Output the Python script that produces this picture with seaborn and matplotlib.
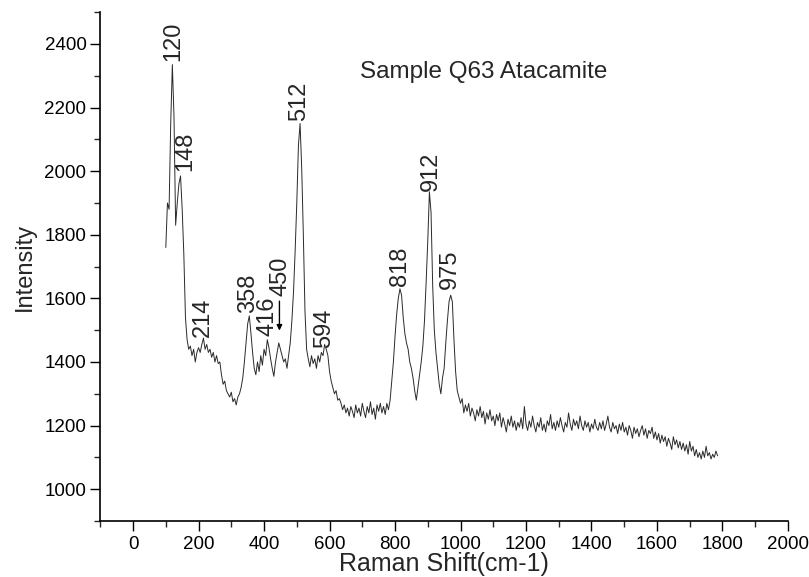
import numpy as np
import pandas as pd
import matplotlib
matplotlib.use("Agg")
import matplotlib.pyplot as plt
import seaborn as sns
from matplotlib.ticker import MultipleLocator

# Raman shift grid (cm-1), 5 cm-1 steps from 100 to 1785
shift = np.arange(100, 1790, 5)

intensity = [
    1760, 1900, 1880, 2150, 2335, 2170, 1830, 1900, 1960, 1985,
    1880, 1740, 1540, 1470, 1440, 1450, 1420, 1440, 1400, 1430,
    1445, 1430, 1455, 1475, 1440, 1455, 1430, 1440, 1415, 1430,
    1400, 1420, 1395, 1400, 1360, 1330, 1340, 1310, 1300, 1290,
    1305, 1275, 1285, 1265, 1290, 1300, 1320, 1350, 1400, 1460,
    1520, 1545, 1490, 1430, 1380, 1360, 1400, 1370, 1420, 1390,
    1440, 1420, 1470, 1445, 1410, 1380, 1355, 1400, 1430, 1460,
    1440, 1420, 1400, 1410, 1380, 1420, 1460, 1530, 1620, 1750,
    1900, 2080, 2150, 2010, 1800, 1560, 1440, 1410, 1385, 1420,
    1395, 1410, 1380, 1420, 1400, 1430, 1420, 1455, 1440, 1420,
    1370, 1340, 1320, 1300, 1310, 1280, 1285, 1270, 1250, 1265,
    1240, 1255, 1230, 1260, 1245, 1225, 1265, 1240, 1255, 1230,
    1270, 1245, 1225, 1260, 1240, 1275, 1235, 1255, 1220, 1265,
    1245, 1270, 1240, 1260, 1235, 1270, 1250, 1280, 1340, 1400,
    1480, 1550, 1600, 1630, 1610, 1540, 1490, 1460, 1440, 1400,
    1380, 1350, 1310, 1280, 1320, 1360, 1400, 1450, 1530, 1650,
    1780, 1935, 1870, 1640, 1500, 1430, 1380, 1330, 1300, 1350,
    1380, 1460, 1530, 1590, 1610, 1590, 1470, 1370, 1310, 1290,
    1270, 1285, 1240, 1265, 1245, 1270, 1230, 1255, 1240, 1215,
    1250, 1230, 1260, 1225, 1245, 1205, 1240, 1220, 1250, 1215,
    1230, 1200, 1235, 1215, 1240, 1195, 1225, 1205, 1180, 1220,
    1200, 1230, 1195, 1215, 1185, 1210, 1195, 1225, 1190, 1260,
    1205, 1185, 1215, 1195, 1230, 1200, 1180, 1210, 1195, 1225,
    1185, 1205, 1180, 1215, 1200, 1235, 1190, 1210, 1185, 1215,
    1195, 1225, 1200, 1180, 1210, 1195, 1240, 1205, 1185, 1220,
    1200, 1215, 1190, 1230, 1200, 1185, 1215, 1195, 1210, 1180,
    1205, 1190, 1220, 1195, 1185, 1210, 1190, 1215, 1185, 1205,
    1230, 1195, 1180, 1210, 1190, 1200, 1175, 1205, 1185, 1210,
    1180, 1195, 1170, 1200, 1185, 1160, 1195, 1175, 1190, 1165,
    1185, 1200, 1170, 1190, 1160, 1185, 1175, 1195, 1160, 1180,
    1155, 1175, 1145, 1170, 1150, 1165, 1135, 1160, 1145, 1125,
    1165, 1140, 1155, 1130, 1150, 1125, 1145, 1120, 1140, 1110,
    1150, 1120, 1135, 1105, 1125, 1100, 1115, 1095, 1120, 1100,
    1135, 1105, 1115, 1095, 1110, 1100, 1120, 1105,
]

# peak labels: text, x position, y of label base
peak_text = ["120", "148", "214", "358", "416", "450", "512", "594", "818", "912", "975"]
peak_x = [123, 158, 213, 350, 411, 449, 506, 583, 816, 908, 969]
peak_y = [2345, 2000, 1478, 1555, 1483, 1608, 2157, 1445, 1640, 1937, 1630]

df = pd.DataFrame({"shift": shift, "intensity": intensity})

sns.set_style("ticks")
plt.rcParams["font.family"] = ["Liberation Sans", "DejaVu Sans"]

fig = plt.figure(figsize=(8.09, 5.77), dpi=100)
ax = fig.add_axes([0.124, 0.097, 0.850, 0.882])
sns.lineplot(data=df, x="shift", y="intensity", color="#2a2a2a", linewidth=0.7, ax=ax)

for t, x, y in zip(peak_text, peak_x, peak_y):
    ax.text(x, y, t, rotation=90, ha="center", va="bottom", fontsize=17)

ax.annotate("", xy=(447, 1490), xytext=(447, 1600),
            arrowprops=dict(arrowstyle="-|>", color="black", lw=1, mutation_scale=8))

ax.text(1070, 2313, "Sample Q63 Atacamite", fontsize=17.5, ha="center", va="center")

ax.set_xlim(-100, 2000)
ax.set_ylim(900, 2500)
ax.xaxis.set_major_locator(MultipleLocator(200))
ax.xaxis.set_minor_locator(MultipleLocator(100))
ax.yaxis.set_major_locator(MultipleLocator(200))
ax.yaxis.set_minor_locator(MultipleLocator(100))
ax.tick_params(which="major", length=7, width=1, labelsize=13.5, colors="black")
ax.tick_params(which="minor", length=4, width=1)
ax.tick_params(axis="x", which="major", pad=4)
ax.tick_params(axis="y", which="major", pad=3)
ax.set_xlabel("Raman Shift(cm-1)", fontsize=18, labelpad=-1)
ax.set_ylabel("Intensity", fontsize=17, labelpad=6)
sns.despine(ax=ax)
for s in ["left", "bottom"]:
    ax.spines[s].set_linewidth(1.2)
    ax.spines[s].set_color("black")

fig.savefig("out.png", dpi=100)
